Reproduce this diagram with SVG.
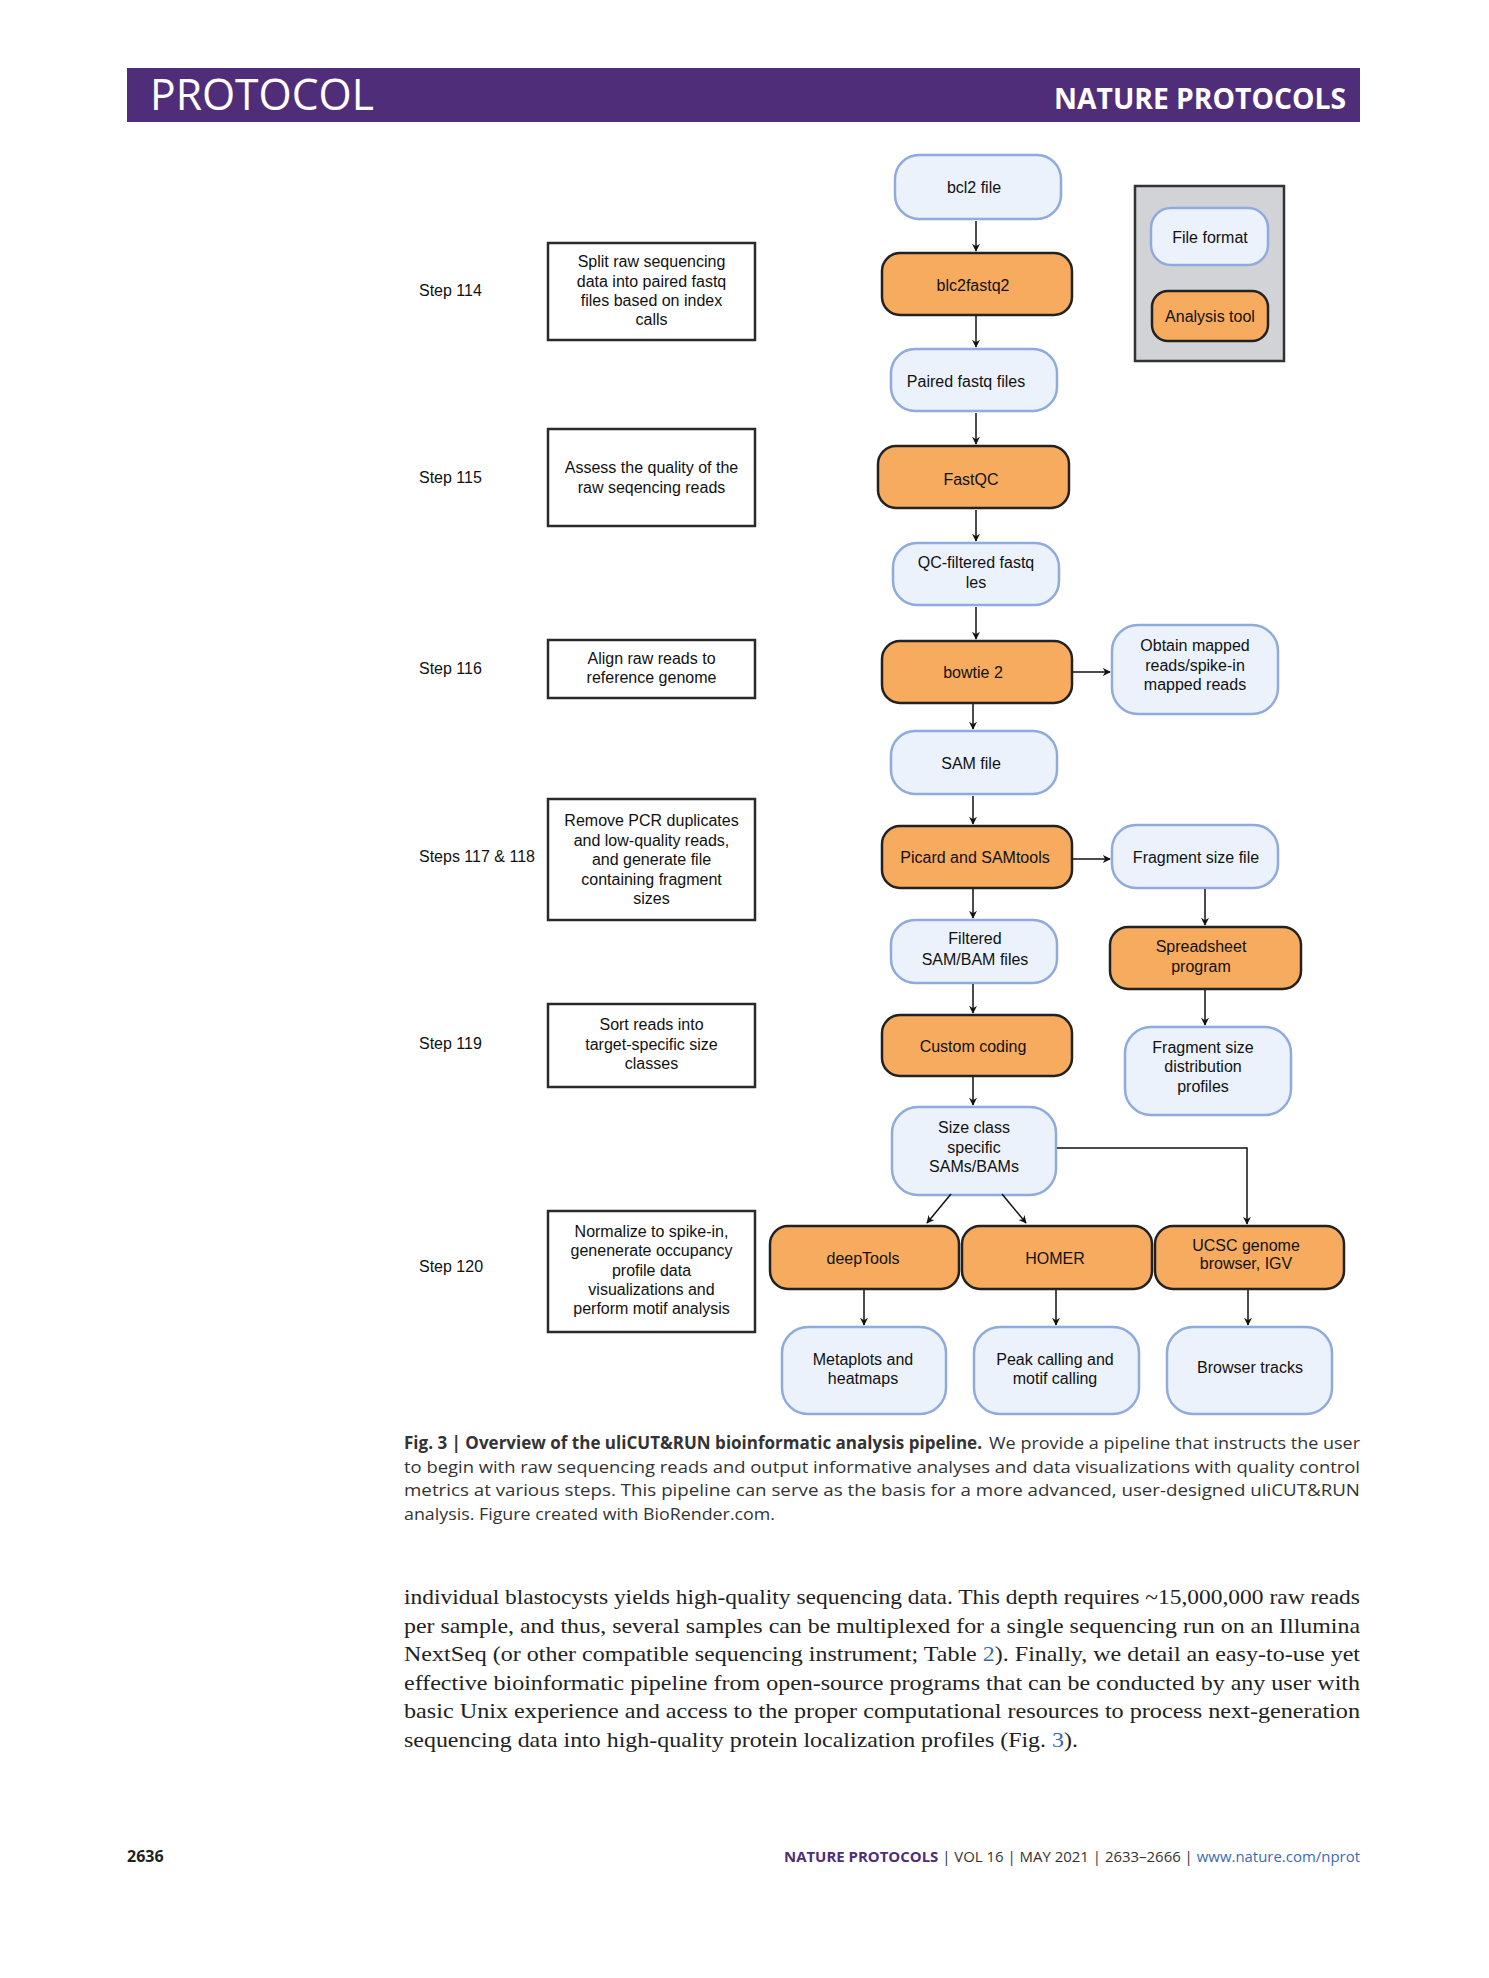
<svg xmlns="http://www.w3.org/2000/svg" width="1489" height="1978" viewBox="0 0 1489 1978">
<style>
.t{font-family:"Liberation Sans",Arial,sans-serif;font-size:16px;fill:#111;text-anchor:middle}
.s{font-family:"Liberation Sans",Arial,sans-serif;font-size:16px;fill:#111}
.step rect{fill:#fff;stroke:#2a2a2a;stroke-width:2.5}
.file rect{fill:#EBF2FC;stroke:#8FAADC;stroke-width:2.5}
.tool rect{fill:#F6AB5E;stroke:#222;stroke-width:2.5}
.con line,.con path{stroke:#111;stroke-width:1.5;fill:none;marker-end:url(#ah)}
.cap{font-family:"Open Sans","Liberation Sans",sans-serif;font-size:17px;fill:#333}
.body{font-family:"Liberation Serif","Times New Roman",serif;font-size:21px;fill:#222}
</style>
<defs>
<marker id="ah" viewBox="0 0 10 10" refX="9" refY="5" markerWidth="8" markerHeight="8" markerUnits="userSpaceOnUse" orient="auto">
<path d="M0,0 L10,5 L0,10 L3,5 Z" fill="#111"/>
</marker>
</defs>
<rect width="1489" height="1978" fill="#fff"/>

<!-- header -->
<g id="header">
<rect x="127" y="68" width="1233" height="54" fill="#502D78"/>
<text x="150" y="110" font-family="'Open Sans','Liberation Sans',sans-serif" font-size="43" fill="#fff" textLength="224" lengthAdjust="spacingAndGlyphs">PROTOCOL</text>
<text x="1346" y="109" font-family="'Open Sans','Liberation Sans',sans-serif" font-weight="bold" font-size="29" fill="#fff" text-anchor="end" textLength="292" lengthAdjust="spacingAndGlyphs">NATURE PROTOCOLS</text>
</g>

<!-- step labels -->
<g id="step-labels">
<text class="s" x="419" y="296">Step 114</text>
<text class="s" x="419" y="483">Step 115</text>
<text class="s" x="419" y="674">Step 116</text>
<text class="s" x="419" y="862">Steps 117 &amp; 118</text>
<text class="s" x="419" y="1049">Step 119</text>
<text class="s" x="419" y="1272">Step 120</text>
</g>

<g id="step114" class="step"><rect x="548" y="243" width="207" height="97"/>
<text class="t" x="651.5" y="267">Split raw sequencing</text><text class="t" x="651.5" y="287">data into paired fastq</text><text class="t" x="651.5" y="306">files based on index</text><text class="t" x="651.5" y="325">calls</text></g>
<g id="step115" class="step"><rect x="548" y="429" width="207" height="97"/>
<text class="t" x="651.5" y="473">Assess the quality of the</text><text class="t" x="651.5" y="493">raw seqencing reads</text></g>
<g id="step116" class="step"><rect x="548" y="640" width="207" height="58"/>
<text class="t" x="651.5" y="664">Align raw reads to</text><text class="t" x="651.5" y="683">reference genome</text></g>
<g id="step117" class="step"><rect x="548" y="799" width="207" height="121"/>
<text class="t" x="651.5" y="826">Remove PCR duplicates</text><text class="t" x="651.5" y="846">and low-quality reads,</text><text class="t" x="651.5" y="865">and generate file</text><text class="t" x="651.5" y="885">containing fragment</text><text class="t" x="651.5" y="904">sizes</text></g>
<g id="step119" class="step"><rect x="548" y="1004" width="207" height="83"/>
<text class="t" x="651.5" y="1030">Sort reads into</text><text class="t" x="651.5" y="1050">target-specific size</text><text class="t" x="651.5" y="1069">classes</text></g>
<g id="step120" class="step"><rect x="548" y="1211" width="207" height="121"/>
<text class="t" x="651.5" y="1237">Normalize to spike-in,</text><text class="t" x="651.5" y="1256">genenerate occupancy</text><text class="t" x="651.5" y="1276">profile data</text><text class="t" x="651.5" y="1295">visualizations and</text><text class="t" x="651.5" y="1314">perform motif analysis</text></g>

<!-- legend -->
<g id="legend">
<rect x="1135" y="186" width="149" height="175" fill="#D1D3D6" stroke="#333" stroke-width="2.5"/>
<g id="legend-file" class="file"><rect x="1151" y="208" width="117" height="57" rx="20"/><text class="t" x="1210" y="243">File format</text></g>
<g id="legend-tool" class="tool"><rect x="1152" y="291" width="116" height="50" rx="16"/><text class="t" x="1210" y="322">Analysis tool</text></g>
</g>

<!-- main column -->
<g id="bcl2" class="file"><rect x="895" y="155" width="166" height="64" rx="24"/><text class="t" x="974" y="193">bcl2 file</text></g>
<g id="blc2fastq2" class="tool"><rect x="882" y="253" width="190" height="62" rx="18"/><text class="t" x="973" y="291">blc2fastq2</text></g>
<g id="paired" class="file"><rect x="891" y="349" width="166" height="62" rx="24"/><text class="t" x="966" y="387">Paired fastq files</text></g>
<g id="fastqc" class="tool"><rect x="878" y="446" width="191" height="62" rx="18"/><text class="t" x="971" y="485">FastQC</text></g>
<g id="qcfiltered" class="file"><rect x="893" y="543" width="166" height="62" rx="24"/><text class="t" x="976" y="568">QC-filtered fastq</text><text class="t" x="976" y="588">les</text></g>
<g id="bowtie2" class="tool"><rect x="882" y="641" width="190" height="62" rx="18"/><text class="t" x="973" y="678">bowtie 2</text></g>
<g id="obtain" class="file"><rect x="1112" y="625" width="166" height="89" rx="26"/><text class="t" x="1195" y="651">Obtain mapped</text><text class="t" x="1195" y="671">reads/spike-in</text><text class="t" x="1195" y="690">mapped reads</text></g>
<g id="samfile" class="file"><rect x="891" y="731" width="166" height="63" rx="24"/><text class="t" x="971" y="769">SAM file</text></g>
<g id="picard" class="tool"><rect x="882" y="826" width="190" height="62" rx="18"/><text class="t" x="975" y="863">Picard and SAMtools</text></g>
<g id="fragfile" class="file"><rect x="1112" y="825" width="166" height="63" rx="24"/><text class="t" x="1196" y="863">Fragment size file</text></g>
<g id="spreadsheet" class="tool"><rect x="1110" y="927" width="191" height="62" rx="18"/><text class="t" x="1201" y="952">Spreadsheet</text><text class="t" x="1201" y="972">program</text></g>
<g id="fragdist" class="file"><rect x="1125" y="1027" width="166" height="88" rx="26"/><text class="t" x="1203" y="1053">Fragment size</text><text class="t" x="1203" y="1072">distribution</text><text class="t" x="1203" y="1092">profiles</text></g>
<g id="filtered" class="file"><rect x="891" y="920" width="166" height="63" rx="24"/><text class="t" x="975" y="944">Filtered</text><text class="t" x="975" y="965">SAM/BAM files</text></g>
<g id="custom" class="tool"><rect x="882" y="1015" width="190" height="61" rx="18"/><text class="t" x="973" y="1052">Custom coding</text></g>
<g id="sizeclass" class="file"><rect x="892" y="1107" width="164" height="88" rx="26"/><text class="t" x="974" y="1133">Size class</text><text class="t" x="974" y="1153">specific</text><text class="t" x="974" y="1172">SAMs/BAMs</text></g>
<g id="deeptools" class="tool"><rect x="770" y="1226" width="189" height="63" rx="18"/><text class="t" x="863" y="1264">deepTools</text></g>
<g id="homer" class="tool"><rect x="962" y="1226" width="190" height="63" rx="18"/><text class="t" x="1055" y="1264">HOMER</text></g>
<g id="ucsc" class="tool"><rect x="1155" y="1226" width="189" height="63" rx="18"/><text class="t" x="1246" y="1251">UCSC genome</text><text class="t" x="1246" y="1269">browser, IGV</text></g>
<g id="metaplots" class="file"><rect x="782" y="1327" width="164" height="87" rx="26"/><text class="t" x="863" y="1365">Metaplots and</text><text class="t" x="863" y="1384">heatmaps</text></g>
<g id="peak" class="file"><rect x="974" y="1327" width="165" height="87" rx="26"/><text class="t" x="1055" y="1365">Peak calling and</text><text class="t" x="1055" y="1384">motif calling</text></g>
<g id="browser" class="file"><rect x="1167" y="1327" width="165" height="87" rx="26"/><text class="t" x="1250" y="1373">Browser tracks</text></g>

<!-- connectors -->
<g id="connectors" class="con">
<line x1="976" y1="221" x2="976" y2="251"/>
<line x1="976" y1="316" x2="976" y2="347"/>
<line x1="976" y1="413" x2="976" y2="444"/>
<line x1="976" y1="510" x2="976" y2="541"/>
<line x1="976" y1="607" x2="976" y2="639"/>
<line x1="1073" y1="672" x2="1110" y2="672"/>
<line x1="973" y1="704" x2="973" y2="729"/>
<line x1="973" y1="796" x2="973" y2="824"/>
<line x1="1073" y1="859" x2="1110" y2="859"/>
<line x1="1205" y1="889" x2="1205" y2="925"/>
<line x1="1205" y1="990" x2="1205" y2="1025"/>
<line x1="973" y1="889" x2="973" y2="918"/>
<line x1="973" y1="984" x2="973" y2="1013"/>
<line x1="973" y1="1077" x2="973" y2="1105"/>
<path d="M1057,1148 H1247 V1224"/>
<line x1="951" y1="1194" x2="927" y2="1223"/>
<line x1="1002" y1="1194" x2="1026" y2="1223"/>
<line x1="864" y1="1290" x2="864" y2="1325"/>
<line x1="1056" y1="1290" x2="1056" y2="1325"/>
<line x1="1248" y1="1290" x2="1248" y2="1325"/>
</g>

<!-- caption -->
<g id="caption">
<text class="cap" x="404" y="1449" font-weight="bold" textLength="578" lengthAdjust="spacingAndGlyphs">Fig. 3 | Overview of the uliCUT&amp;RUN bioinformatic analysis pipeline.</text>
<text class="cap" x="989" y="1449" textLength="371" lengthAdjust="spacingAndGlyphs">We provide a pipeline that instructs the user</text>
<text class="cap" x="404" y="1473" textLength="956" lengthAdjust="spacingAndGlyphs">to begin with raw sequencing reads and output informative analyses and data visualizations with quality control</text>
<text class="cap" x="404" y="1496" textLength="956" lengthAdjust="spacingAndGlyphs">metrics at various steps. This pipeline can serve as the basis for a more advanced, user-designed uliCUT&amp;RUN</text>
<text class="cap" x="404" y="1520" textLength="371" lengthAdjust="spacingAndGlyphs">analysis. Figure created with BioRender.com.</text>
</g>

<!-- body text -->
<g id="body">
<text class="body" x="404" y="1604" textLength="956" lengthAdjust="spacingAndGlyphs">individual blastocysts yields high-quality sequencing data. This depth requires ~15,000,000 raw reads</text>
<text class="body" x="404" y="1633" textLength="956" lengthAdjust="spacingAndGlyphs">per sample, and thus, several samples can be multiplexed for a single sequencing run on an Illumina</text>
<text class="body" x="404" y="1661" textLength="956" lengthAdjust="spacingAndGlyphs">NextSeq (or other compatible sequencing instrument; Table <tspan fill="#3A6BB0">2</tspan>). Finally, we detail an easy-to-use yet</text>
<text class="body" x="404" y="1690" textLength="956" lengthAdjust="spacingAndGlyphs">effective bioinformatic pipeline from open-source programs that can be conducted by any user with</text>
<text class="body" x="404" y="1718" textLength="956" lengthAdjust="spacingAndGlyphs">basic Unix experience and access to the proper computational resources to process next-generation</text>
<text class="body" x="404" y="1747" textLength="674" lengthAdjust="spacingAndGlyphs">sequencing data into high-quality protein localization profiles (Fig. <tspan fill="#3A6BB0">3</tspan>).</text>
</g>

<!-- footer -->
<g id="footer">
<text x="127" y="1862" font-family="'Open Sans','Liberation Sans',sans-serif" font-weight="bold" font-size="16" fill="#222">2636</text>
<text x="1360" y="1862" font-family="'Open Sans','Liberation Sans',sans-serif" font-size="15" text-anchor="end" fill="#333" textLength="576" lengthAdjust="spacingAndGlyphs"><tspan fill="#502D78" font-weight="bold">NATURE PROTOCOLS</tspan> | VOL 16 | MAY 2021 | 2633–2666 | <tspan fill="#3A6BB0">www.nature.com/nprot</tspan></text>
</g>
</svg>
